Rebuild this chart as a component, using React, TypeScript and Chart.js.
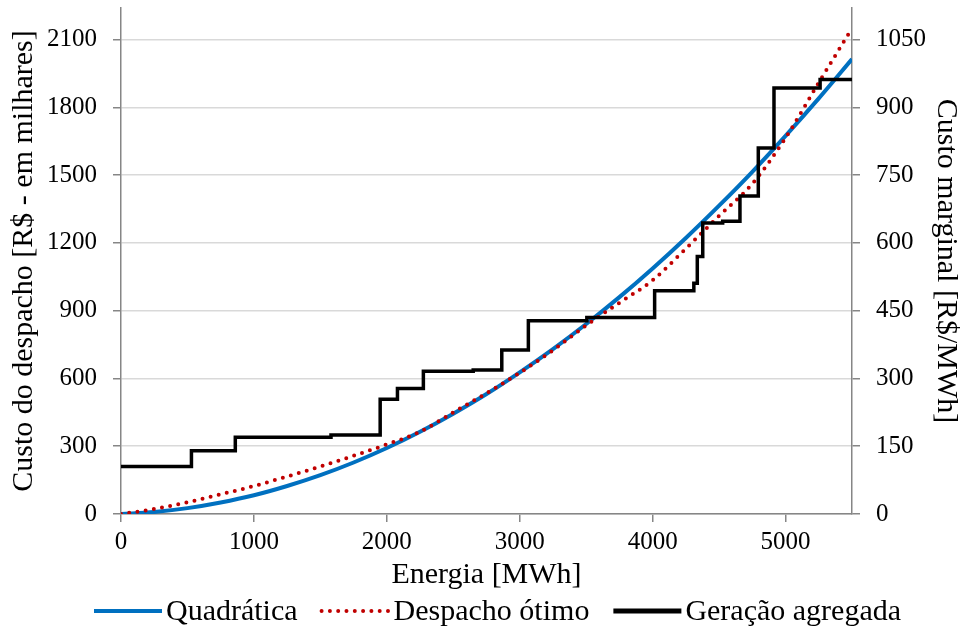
import React, { useEffect, useRef } from "react";
import { Chart, registerables } from "chart.js";

Chart.register(...registerables);

// Energy grid (MWh) used by the two cost curves
const energia = [0, 250, 500, 750, 1000, 1250, 1500, 1750, 2000, 2250, 2500, 2750, 3000, 3250, 3500, 3750, 4000, 4250, 4500, 4750, 5000, 5250, 5500];

// Quadratic fit of the dispatch cost (R$ thousands)
const quadratica = [0, 9, 26, 51, 83, 124, 172, 228, 292, 364, 444, 531, 627, 730, 841, 960, 1087, 1222, 1365, 1515, 1674, 1840, 2014];

// Optimal dispatch cost (R$ thousands)
const despachoOtimo = [0, 22, 52, 87, 124, 166, 210, 258, 308, 364, 450, 535, 625, 725, 835, 935, 1035, 1175, 1320, 1462, 1665, 1910, 2150];

// Aggregated generation: marginal cost steps (R$/MWh), each level held from its start energy
const degrauEnergia = [0, 530, 860, 1580, 1950, 2080, 2275, 2650, 2865, 3065, 3505, 4015, 4310, 4336, 4377, 4527, 4657, 4795, 4913, 5260, 5500];
const degrauCusto = [105, 140, 170, 175, 254, 278, 316, 319, 363, 428, 435, 494, 511, 570, 644, 648, 704, 810, 943, 962, 962];

const leftTicks = [0, 300, 600, 900, 1200, 1500, 1800, 2100];
const rightTicks = [0, 150, 300, 450, 600, 750, 900, 1050];
const xTicks = [0, 1000, 2000, 3000, 4000, 5000];

const serif = "'Liberation Serif', 'DejaVu Serif', serif";
const axisGray = "#868686";
const gridGray = "#d9d9d9";
const legendFont = `30px ${serif}`;

// Legend row under the axis title: line sample followed by the series name
const lineLegend = {
  id: "lineLegend",
  afterDraw(chart: any) {
    const ctx = chart.ctx as CanvasRenderingContext2D;
    const sample = 68;
    const gap = 4;
    const itemGap = 24;
    const y = 611;
    ctx.save();
    ctx.font = legendFont;
    ctx.textBaseline = "middle";
    ctx.textAlign = "left";
    let x = 94;
    chart.data.datasets.forEach((ds: any) => {
      ctx.save();
      ctx.strokeStyle = ds.borderColor;
      ctx.lineWidth = ds.legendWidth || ds.borderWidth;
      ctx.lineCap = ds.borderCapStyle || "butt";
      ctx.setLineDash(ds.borderDash || []);
      ctx.beginPath();
      ctx.moveTo(x, y);
      ctx.lineTo(x + sample, y);
      ctx.stroke();
      ctx.restore();
      x += sample + gap;
      ctx.fillStyle = "#000";
      ctx.fillText(ds.label, x, y + 1);
      x += ctx.measureText(ds.label).width + itemGap;
    });
    ctx.restore();
  },
};

export default function App() {
  const canvasRef = useRef<HTMLCanvasElement | null>(null);

  useEffect(() => {
    const canvas = canvasRef.current;
    if (!canvas) return;

    const keepTicks = (values: number[]) => (scale: any) => {
      scale.ticks = values.map((v) => ({ value: v }));
    };
    const plain = (v: any) => String(v);

    const chart = new Chart(canvas, {
      type: "line",
      data: {
        datasets: [
          {
            label: "Quadrática",
            data: energia.map((x, i) => ({ x, y: quadratica[i] })),
            borderColor: "#0070C0",
            backgroundColor: "#0070C0",
            borderWidth: 4,
            pointRadius: 0,
            cubicInterpolationMode: "monotone",
            yAxisID: "y",
            order: 3,
          },
          {
            label: "Despacho ótimo",
            data: energia.map((x, i) => ({ x, y: despachoOtimo[i] })),
            borderColor: "#C00000",
            backgroundColor: "#C00000",
            borderWidth: 4,
            borderDash: [0, 8.3],
            borderCapStyle: "round",
            pointRadius: 0,
            cubicInterpolationMode: "monotone",
            yAxisID: "y",
            order: 2,
          },
          {
            label: "Geração agregada",
            data: degrauEnergia.map((x, i) => ({ x, y: degrauCusto[i] })),
            borderColor: "#000000",
            backgroundColor: "#000000",
            borderWidth: 3.5,
            legendWidth: 5,
            stepped: true,
            pointRadius: 0,
            yAxisID: "y2",
            order: 1,
          } as any,
        ],
      },
      options: {
        animation: false,
        responsive: false,
        maintainAspectRatio: false,
        layout: { padding: { top: 8, left: 0, right: 0, bottom: 40 } },
        plugins: {
          tooltip: { enabled: false },
          legend: { display: false },
        },
        scales: {
          x: {
            type: "linear",
            min: 0,
            max: 5500,
            afterBuildTicks: keepTicks(xTicks),
            afterFit: (scale: any) => {
              scale.height = 76;
              scale.paddingLeft = 0;
              scale.paddingRight = 0;
            },
            border: { color: axisGray, width: 1.5 },
            grid: { drawOnChartArea: false, drawTicks: true, tickLength: 8, color: axisGray, lineWidth: 1.5 },
            ticks: { color: "#000", font: { family: serif, size: 25 }, padding: 5, maxRotation: 0, callback: plain },
            title: {
              display: true,
              text: "Energia [MWh]",
              color: "#000",
              font: { family: serif, size: 30, lineHeight: 1 },
              padding: { top: 0, bottom: 0 },
            },
          },
          y: {
            type: "linear",
            position: "left",
            min: 0,
            max: 2240,
            afterBuildTicks: keepTicks(leftTicks),
            afterFit: (scale: any) => {
              scale.width = 121;
              scale.paddingTop = 0;
              scale.paddingBottom = 0;
            },
            border: { color: axisGray, width: 1.5 },
            grid: { color: gridGray, lineWidth: 1.5, tickLength: 8, tickColor: axisGray },
            ticks: { color: "#000", font: { family: serif, size: 25 }, padding: 16, callback: plain },
            title: {
              display: true,
              text: "Custo do despacho [R$ - em milhares]",
              color: "#000",
              font: { family: serif, size: 30, lineHeight: 1 },
              padding: { top: 9, bottom: 0 },
            },
          },
          y2: {
            type: "linear",
            position: "right",
            min: 0,
            max: 1120,
            afterBuildTicks: keepTicks(rightTicks),
            afterFit: (scale: any) => {
              scale.width = 111;
              scale.paddingTop = 0;
              scale.paddingBottom = 0;
            },
            border: { color: axisGray, width: 1.5 },
            grid: { drawOnChartArea: false, tickLength: 8, color: axisGray, lineWidth: 1.5 },
            ticks: { color: "#000", font: { family: serif, size: 25 }, padding: 16, callback: plain },
            title: {
              display: true,
              text: "Custo marginal [R$/MWh]",
              color: "#000",
              font: { family: serif, size: 30, lineHeight: 1 },
              padding: { top: 2, bottom: 0 },
            },
          },
        },
      },
      plugins: [lineLegend],
    });

    return () => chart.destroy();
  }, []);

  return (
    <div style={{ position: "fixed", left: 0, top: 0, width: 963, height: 630, background: "#fff" }}>
      <canvas ref={canvasRef} width={963} height={630} style={{ display: "block", width: 963, height: 630 }} />
    </div>
  );
}
